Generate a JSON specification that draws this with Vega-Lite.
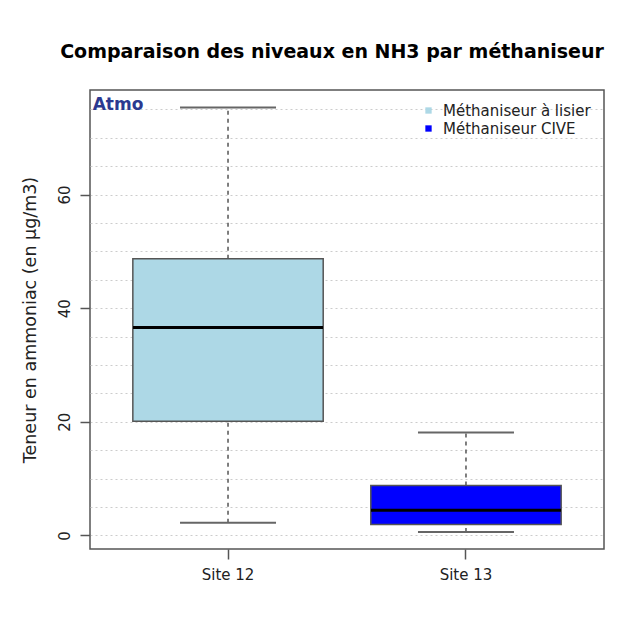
{
  "$schema": "https://vega.github.io/schema/vega-lite/v6.json",
  "width": 514,
  "height": 459,
  "autosize": "none",
  "padding": {"left": 90, "top": 90, "right": 28, "bottom": 90},
  "background": "white",
  "title": {
    "text": "Comparaison des niveaux en NH3 par méthaniseur",
    "font": "DejaVu Sans",
    "fontSize": 19,
    "fontWeight": "bold",
    "color": "black",
    "anchor": "middle",
    "frame": "group",
    "offset": 28,
    "dx": -15
  },
  "config": {
    "font": "DejaVu Sans",
    "view": {"stroke": "#555", "strokeWidth": 1.5},
    "axis": {"labelFont": "DejaVu Sans", "titleFont": "DejaVu Sans", "labelColor": "#222", "titleColor": "#222"},
    "axisY": {
      "titleFontSize": 17.5,
      "titleFontWeight": "normal",
      "titlePadding": 18,
      "labelOverlap": false,
      "labelAngle": -90,
      "labelAlign": "center",
      "labelBaseline": "bottom",
      "labelFontSize": 15,
      "labelPadding": 8,
      "domain": false,
      "tickSize": 10,
      "tickColor": "#555",
      "tickWidth": 1.5,
      "grid": true,
      "gridColor": "#cccccc",
      "gridDash": [2, 3],
      "gridWidth": 1,
      "zindex": 1
    }
  },
  "data": {
    "values": [
      {"site": "Site 12", "type": "Méthaniseur à lisier", "min": 2.2, "q1": 20.1, "median": 36.6, "q3": 48.7, "max": 75.3},
      {"site": "Site 13", "type": "Méthaniseur CIVE", "min": 0.6, "q1": 1.9, "median": 4.4, "q3": 8.8, "max": 18.1}
    ]
  },
  "encoding": {
    "x": {
      "field": "site",
      "type": "nominal",
      "scale": {"paddingOuter": 0.08, "paddingInner": 0},
      "axis": {
        "title": null,
        "domain": false,
        "labelAngle": 0,
        "labelFontSize": 15,
        "labelPadding": 8,
        "tickSize": 10,
        "tickColor": "#555",
        "tickWidth": 1.5
      }
    }
  },
  "layer": [
    {
      "mark": {"type": "rule", "strokeDash": [4, 4], "color": "#555", "strokeWidth": 1.5},
      "encoding": {
        "y": {
          "field": "q3",
          "type": "quantitative",
          "scale": {"domain": [-2.4, 78.4], "nice": false, "zero": false},
          "axis": {
            "title": "Teneur en ammoniac (en µg/m3)",
            "values": [0, 5, 10, 15, 20, 25, 30, 35, 40, 45, 50, 55, 60, 65, 70, 75],
            "labelExpr": "datum.value % 20 == 0 ? datum.label : ''",
            "tickOpacity": {"condition": {"test": "datum.value % 20 == 0", "value": 1}, "value": 0}
          }
        },
        "y2": {"field": "max"}
      }
    },
    {
      "mark": {"type": "rule", "strokeDash": [4, 4], "color": "#555", "strokeWidth": 1.5},
      "encoding": {
        "y": {
          "field": "min", "type": "quantitative",
          "axis": {
            "title": "Teneur en ammoniac (en µg/m3)",
            "values": [0, 5, 10, 15, 20, 25, 30, 35, 40, 45, 50, 55, 60, 65, 70, 75],
            "labelExpr": "datum.value % 20 == 0 ? datum.label : ''",
            "tickOpacity": {"condition": {"test": "datum.value % 20 == 0", "value": 1}, "value": 0}
          }
        },
        "y2": {"field": "q1"}
      }
    },
    {
      "mark": {"type": "tick", "size": 96, "thickness": 2, "color": "#666", "opacity": 1},
      "encoding": {
        "y": {
          "field": "max", "type": "quantitative",
          "axis": {
            "title": "Teneur en ammoniac (en µg/m3)",
            "values": [0, 5, 10, 15, 20, 25, 30, 35, 40, 45, 50, 55, 60, 65, 70, 75],
            "labelExpr": "datum.value % 20 == 0 ? datum.label : ''",
            "tickOpacity": {"condition": {"test": "datum.value % 20 == 0", "value": 1}, "value": 0}
          }
        }
      }
    },
    {
      "mark": {"type": "tick", "size": 96, "thickness": 2, "color": "#666", "opacity": 1},
      "encoding": {
        "y": {
          "field": "min", "type": "quantitative",
          "axis": {
            "title": "Teneur en ammoniac (en µg/m3)",
            "values": [0, 5, 10, 15, 20, 25, 30, 35, 40, 45, 50, 55, 60, 65, 70, 75],
            "labelExpr": "datum.value % 20 == 0 ? datum.label : ''",
            "tickOpacity": {"condition": {"test": "datum.value % 20 == 0", "value": 1}, "value": 0}
          }
        }
      }
    },
    {
      "mark": {"type": "bar", "width": {"band": 0.8}, "stroke": "#555", "strokeWidth": 1.5},
      "encoding": {
        "y": {
          "field": "q1", "type": "quantitative",
          "axis": {
            "title": "Teneur en ammoniac (en µg/m3)",
            "values": [0, 5, 10, 15, 20, 25, 30, 35, 40, 45, 50, 55, 60, 65, 70, 75],
            "labelExpr": "datum.value % 20 == 0 ? datum.label : ''",
            "tickOpacity": {"condition": {"test": "datum.value % 20 == 0", "value": 1}, "value": 0}
          }
        },
        "y2": {"field": "q3"},
        "fill": {
          "field": "type",
          "type": "nominal",
          "scale": {"domain": ["Méthaniseur à lisier", "Méthaniseur CIVE"], "range": ["#add8e6", "#0000ff"]},
          "legend": {
            "title": null,
            "orient": "top-right",
            "offset": 11,
            "padding": 2,
            "labelFontSize": 15,
            "labelColor": "#222",
            "labelOffset": 7,
            "symbolType": "square",
            "symbolSize": 40,
            "symbolStrokeWidth": 0,
            "rowPadding": 2
          }
        }
      }
    },
    {
      "mark": {"type": "tick", "size": 190, "thickness": 3, "color": "black", "opacity": 1},
      "encoding": {
        "y": {
          "field": "median", "type": "quantitative",
          "axis": {
            "title": "Teneur en ammoniac (en µg/m3)",
            "values": [0, 5, 10, 15, 20, 25, 30, 35, 40, 45, 50, 55, 60, 65, 70, 75],
            "labelExpr": "datum.value % 20 == 0 ? datum.label : ''",
            "tickOpacity": {"condition": {"test": "datum.value % 20 == 0", "value": 1}, "value": 0}
          }
        }
      }
    },
    {
      "data": {"values": [{"site": "Site 12", "label": "Atmo", "y": 75.7}]},
      "mark": {"type": "text", "font": "DejaVu Sans", "fontSize": 17, "fontWeight": "bold", "color": "#2b3990", "dx": -110, "align": "center", "baseline": "middle"},
      "encoding": {
        "y": {
          "field": "y", "type": "quantitative",
          "axis": {
            "title": "Teneur en ammoniac (en µg/m3)",
            "values": [0, 5, 10, 15, 20, 25, 30, 35, 40, 45, 50, 55, 60, 65, 70, 75],
            "labelExpr": "datum.value % 20 == 0 ? datum.label : ''",
            "tickOpacity": {"condition": {"test": "datum.value % 20 == 0", "value": 1}, "value": 0}
          }
        },
        "text": {"field": "label"}
      }
    }
  ]
}
